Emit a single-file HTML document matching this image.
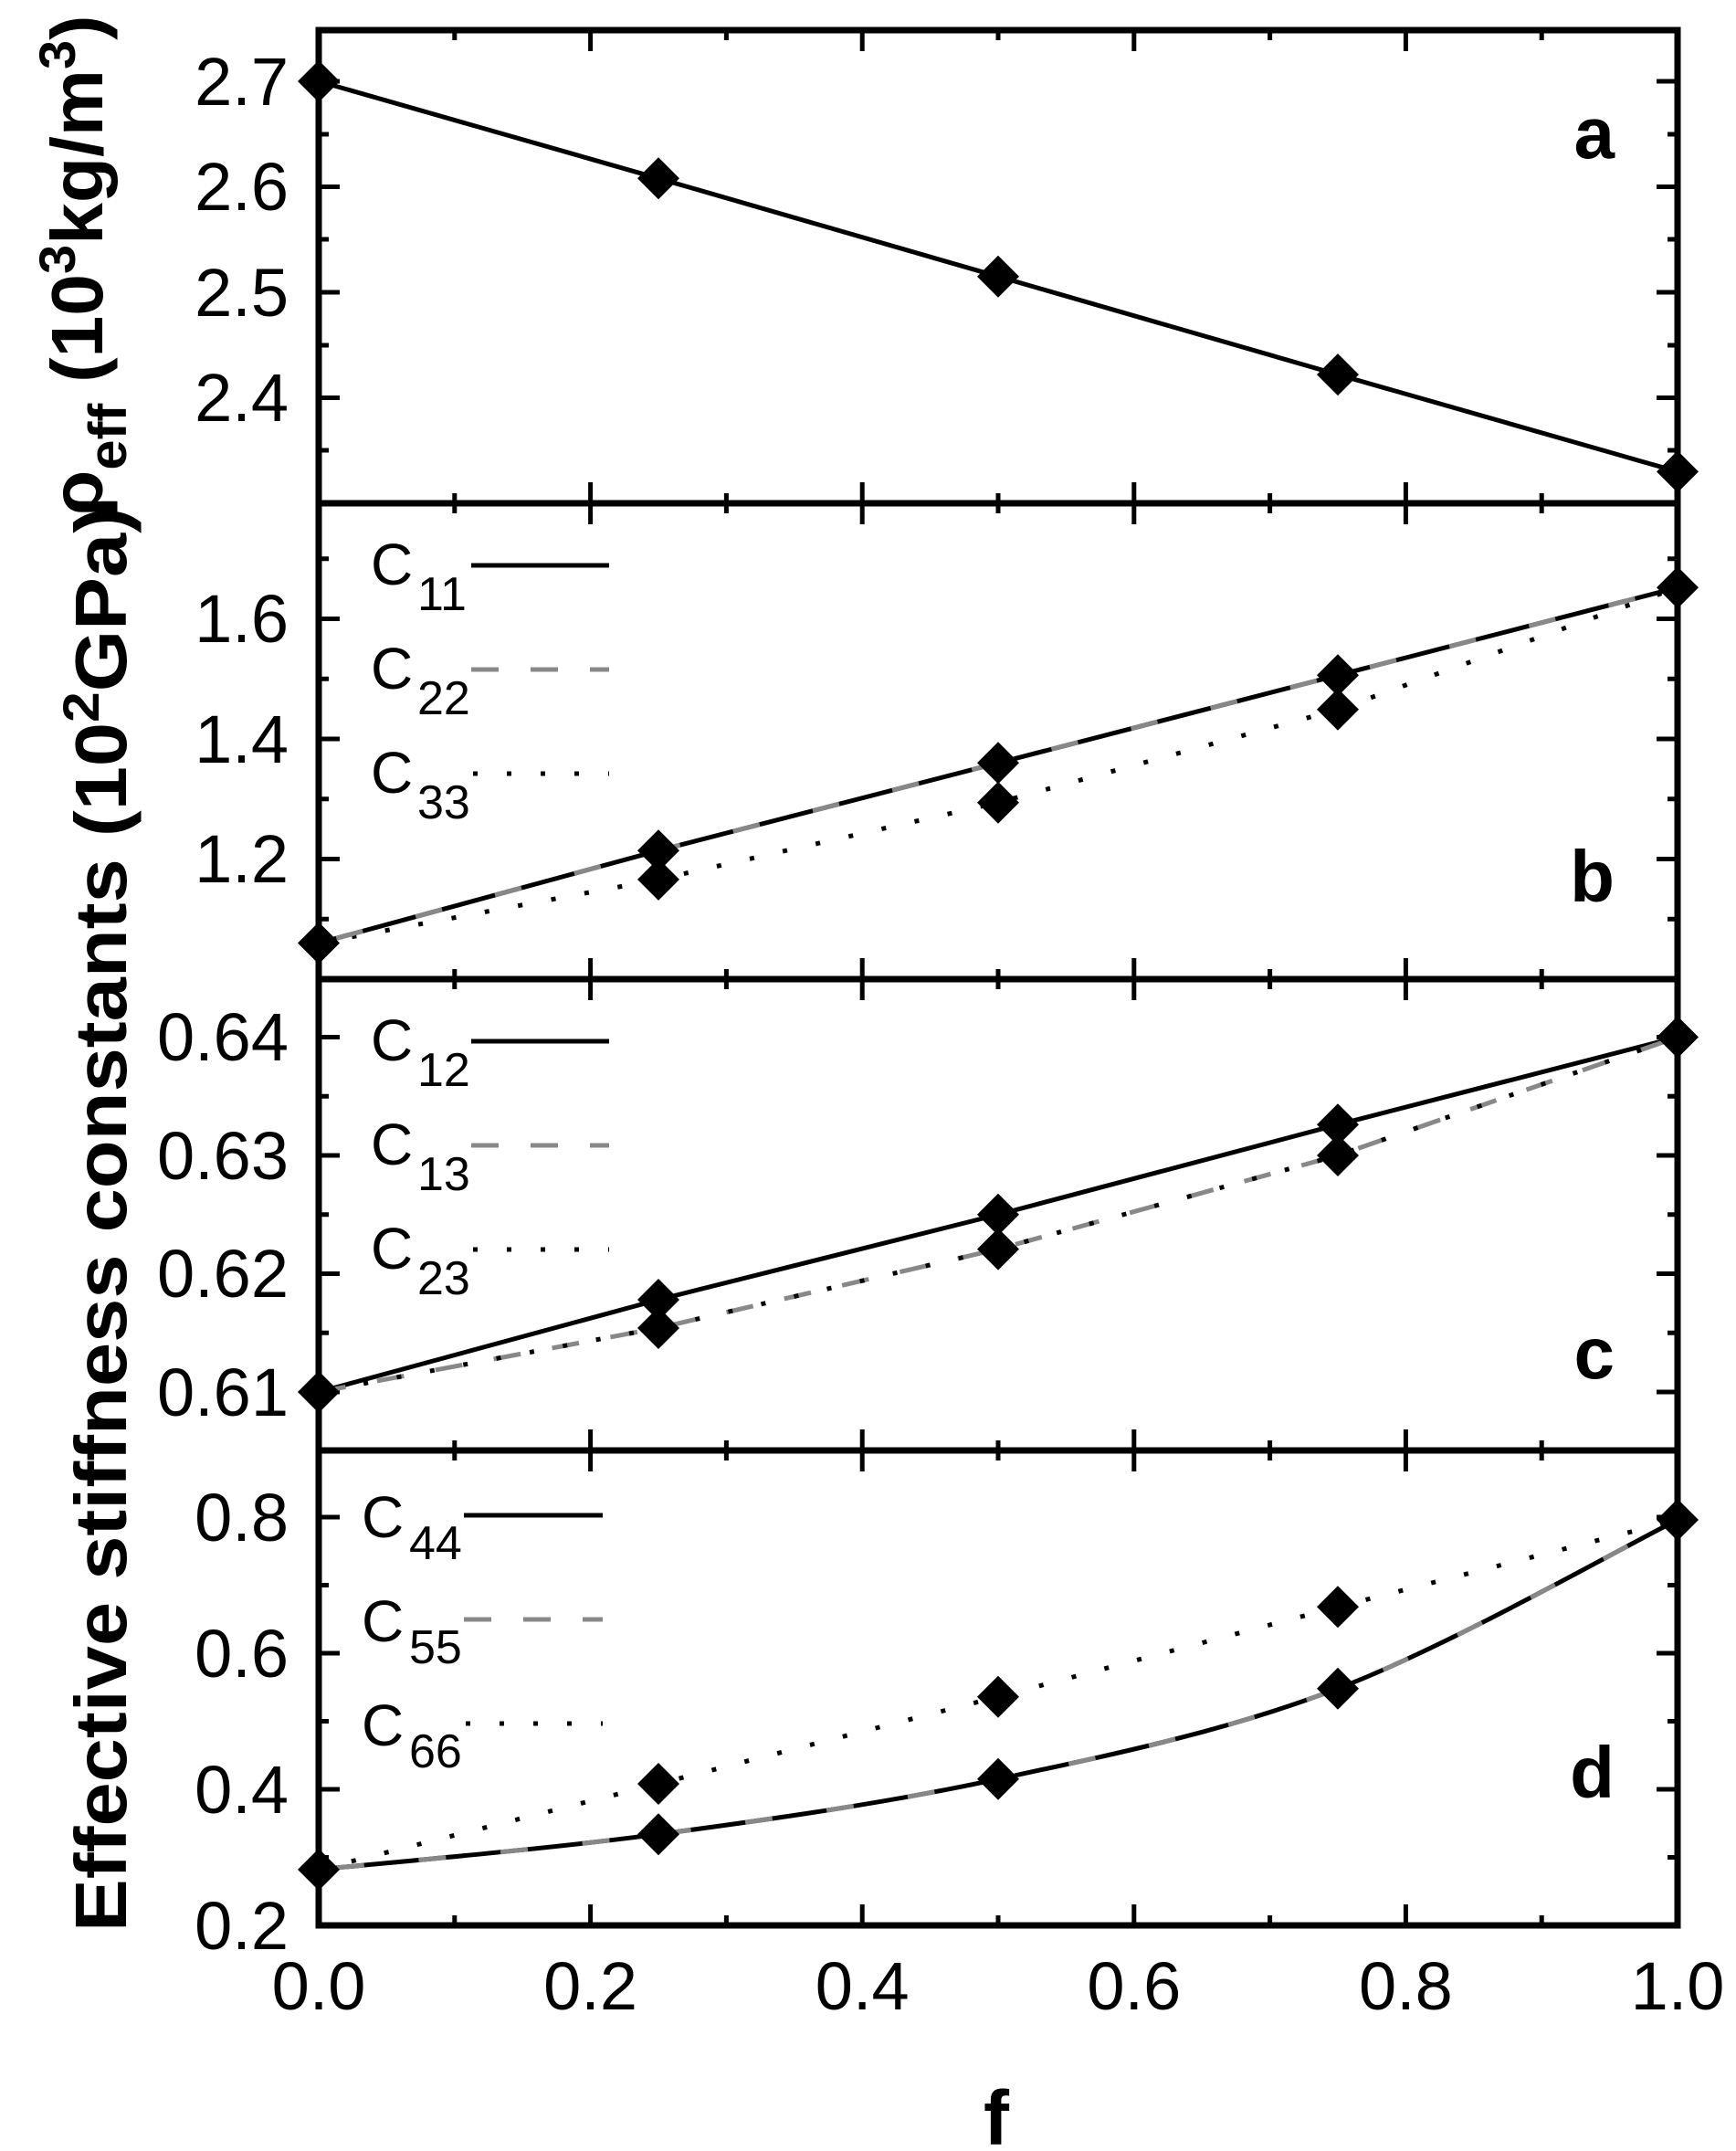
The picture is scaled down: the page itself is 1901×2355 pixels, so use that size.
<!DOCTYPE html>
<html><head><meta charset="utf-8"><style>html,body{margin:0;padding:0;background:#fff}svg{display:block}</style></head>
<body>
<svg width="1901" height="2355" viewBox="0 0 1901 2355" xmlns="http://www.w3.org/2000/svg" font-family="Liberation Sans, Arial, sans-serif">
<defs><path id="dm" d="M0,-23 L23,0 L0,23 L-23,0Z" fill="#000"/></defs>
<rect width="1901" height="2355" fill="#fff"/>
<g stroke="#000" fill="none" stroke-width="5">
<path d="M497.8,33v11M646.6,33v23M795.4,33v11M944.2,33v23M1093,33v11M1241.8,33v23M1390.6,33v11M1539.4,33v23M1688.2,33v11
M497.8,551v-11M646.6,551v-23M795.4,551v-11M944.2,551v-23M1093,551v-11M1241.8,551v-23M1390.6,551v-11M1539.4,551v-23M1688.2,551v-11
M497.8,551v11M646.6,551v23M795.4,551v11M944.2,551v23M1093,551v11M1241.8,551v23M1390.6,551v11M1539.4,551v23M1688.2,551v11
M497.8,1072v-11M646.6,1072v-23M795.4,1072v-11M944.2,1072v-23M1093,1072v-11M1241.8,1072v-23M1390.6,1072v-11M1539.4,1072v-23M1688.2,1072v-11
M497.8,1072v11M646.6,1072v23M795.4,1072v11M944.2,1072v23M1093,1072v11M1241.8,1072v23M1390.6,1072v11M1539.4,1072v23M1688.2,1072v11
M497.8,1588v-11M646.6,1588v-23M795.4,1588v-11M944.2,1588v-23M1093,1588v-11M1241.8,1588v-23M1390.6,1588v-11M1539.4,1588v-23M1688.2,1588v-11
M497.8,1588v11M646.6,1588v23M795.4,1588v11M944.2,1588v23M1093,1588v11M1241.8,1588v23M1390.6,1588v11M1539.4,1588v23M1688.2,1588v11
M497.8,2108v-11M646.6,2108v-23M795.4,2108v-11M944.2,2108v-23M1093,2108v-11M1241.8,2108v-23M1390.6,2108v-11M1539.4,2108v-23M1688.2,2108v-11"/>
<path d="M349,89h23M349,147h11M349,204.5h23M349,262h11M349,320h23M349,378h11M349,435.5h23M349,493h11
M349,611.75h11M349,677.5h23M349,743.25h11M349,809h23M349,874.75h11M349,940.5h23M349,1006.25h11
M349,1135.5h23M349,1200.25h11M349,1265h23M349,1329.75h11M349,1394.5h23M349,1459.25h11M349,1524h23
M349,1661h23M349,1735.5h11M349,1810h23M349,1884.5h11M349,1959h23M349,2033.5h11"/>
<path d="M1837,89h-23M1837,147h-11M1837,204.5h-23M1837,262h-11M1837,320h-23M1837,378h-11M1837,435.5h-23M1837,493h-11
M1837,611.75h-11M1837,677.5h-23M1837,743.25h-11M1837,809h-23M1837,874.75h-11M1837,940.5h-23M1837,1006.25h-11
M1837,1135.5h-23M1837,1200.25h-11M1837,1265h-23M1837,1329.75h-11M1837,1394.5h-23M1837,1459.25h-11M1837,1524h-23
M1837,1661h-23M1837,1735.5h-11M1837,1810h-23M1837,1884.5h-11M1837,1959h-23M1837,2033.5h-11"/>
</g>
<g stroke="#000" fill="none" stroke-width="7">
<rect x="349" y="33" width="1488" height="2075"/>
<path d="M349,551H1837M349,1072H1837M349,1588H1837"/>
</g>
<g fill="none" stroke-width="5">
<polyline stroke="#000" points="349,89 721,195.3 1093,302.7 1465,410.1 1837,516.4"/>
<polyline stroke="#000" stroke-dasharray="5 32" points="349,1032.5 721,962.9 1093,878.7 1465,776.8 1837,643.3"/>
<polyline stroke="#000" points="349,1032.5 721,931.3 1093,835.3 1465,739.3 1837,643.3"/>
<polyline stroke="#888" stroke-dasharray="30 60" stroke-dashoffset="-20" points="349,1032.5 721,931.3 1093,835.3 1465,739.3 1837,643.3"/>
<polyline stroke="#000" points="349,1524 721,1423 1093,1329.75 1465,1231.3 1837,1135.5"/>
<polyline stroke="#888" stroke-dasharray="30 35" points="349,1524 721,1454 1093,1367.6 1465,1265 1837,1135.5"/>
<polyline stroke="#000" stroke-dasharray="5 32" stroke-dashoffset="-50" points="349,1524 721,1454 1093,1367.6 1465,1265 1837,1135.5"/>
<polyline stroke="#000" stroke-dasharray="5 32" points="349,2046.9 721,1953 1093,1857.7 1465,1759.3 1837,1664"/>
<path stroke="#000" d="M349,2046.9 C411,2040.45 597,2024.7 721,2008.2 C845,1991.7 969,1974.4 1093,1947.8 C1217,1921.2 1341,1896 1465,1848.7 C1589,1801.4 1775,1694.8 1837,1664"/>
<path stroke="#888" stroke-dasharray="30 60" stroke-dashoffset="-20" d="M349,2046.9 C411,2040.45 597,2024.7 721,2008.2 C845,1991.7 969,1974.4 1093,1947.8 C1217,1921.2 1341,1896 1465,1848.7 C1589,1801.4 1775,1694.8 1837,1664"/>
<path stroke="#000" d="M516,619H667M516,1140H667M508,1659H660"/>
<path stroke="#888" stroke-dasharray="30 35" d="M516,733H667M516,1254H667M508,1773H660"/>
<path stroke="#000" stroke-dasharray="5 32" d="M518,847H667M518,1368H667M510,1887H660"/>
</g>
<g>
<use href="#dm" x="349" y="89"/><use href="#dm" x="721" y="195.3"/><use href="#dm" x="1093" y="302.7"/><use href="#dm" x="1465" y="410.1"/><use href="#dm" x="1837" y="516.4"/>
<use href="#dm" x="349" y="1032.5"/><use href="#dm" x="721" y="931.3"/><use href="#dm" x="1093" y="835.3"/><use href="#dm" x="1465" y="739.3"/><use href="#dm" x="1837" y="643.3"/>
<use href="#dm" x="721" y="962.9"/><use href="#dm" x="1093" y="878.7"/><use href="#dm" x="1465" y="776.8"/>
<use href="#dm" x="349" y="1524"/><use href="#dm" x="721" y="1423"/><use href="#dm" x="1093" y="1329.75"/><use href="#dm" x="1465" y="1231.3"/><use href="#dm" x="1837" y="1135.5"/>
<use href="#dm" x="721" y="1454"/><use href="#dm" x="1093" y="1367.6"/><use href="#dm" x="1465" y="1265"/>
<use href="#dm" x="349" y="2046.9"/><use href="#dm" x="721" y="2008.2"/><use href="#dm" x="1093" y="1947.8"/><use href="#dm" x="1465" y="1848.7"/><use href="#dm" x="1837" y="1664"/>
<use href="#dm" x="721" y="1953"/><use href="#dm" x="1093" y="1857.7"/><use href="#dm" x="1465" y="1759.3"/>
</g>
<g font-size="74" text-anchor="end" fill="#000">
<text x="316" y="115">2.7</text><text x="316" y="230">2.6</text><text x="316" y="346">2.5</text><text x="316" y="461">2.4</text>
<text x="316" y="703">1.6</text><text x="316" y="835">1.4</text><text x="316" y="966">1.2</text>
<text x="316" y="1161">0.64</text><text x="316" y="1291">0.63</text><text x="316" y="1420">0.62</text><text x="316" y="1550">0.61</text>
<text x="316" y="1687">0.8</text><text x="316" y="1836">0.6</text><text x="316" y="1985">0.4</text><text x="316" y="2134">0.2</text>
</g>
<g font-size="74" text-anchor="middle" fill="#000">
<text x="349" y="2200">0.0</text><text x="646.6" y="2200">0.2</text><text x="944.2" y="2200">0.4</text><text x="1241.8" y="2200">0.6</text><text x="1539.4" y="2200">0.8</text><text x="1837" y="2200">1.0</text>
</g>
<g fill="#000">
<text x="406" y="640" font-size="64">C</text><text x="457" y="668" font-size="52">11</text>
<text x="406" y="754" font-size="64">C</text><text x="457" y="782" font-size="52">22</text>
<text x="406" y="868" font-size="64">C</text><text x="457" y="896" font-size="52">33</text>
<text x="406" y="1161" font-size="64">C</text><text x="457" y="1189" font-size="52">12</text>
<text x="406" y="1275" font-size="64">C</text><text x="457" y="1303" font-size="52">13</text>
<text x="406" y="1389" font-size="64">C</text><text x="457" y="1417" font-size="52">23</text>
<text x="396" y="1683" font-size="64">C</text><text x="448" y="1707" font-size="52">44</text>
<text x="396" y="1797" font-size="64">C</text><text x="448" y="1821" font-size="52">55</text>
<text x="396" y="1911" font-size="64">C</text><text x="448" y="1935" font-size="52">66</text>
</g>
<g font-size="80" font-weight="bold" text-anchor="end" fill="#000">
<text x="1768" y="173">a</text><text x="1768" y="987">b</text><text x="1768" y="1509">c</text><text x="1768" y="1968">d</text>
</g>
<text x="1091" y="2348" font-size="84" font-weight="bold" text-anchor="middle">f</text>
<text transform="translate(138,1335) rotate(-90)" font-size="80" font-weight="bold" text-anchor="middle" textLength="1560" lengthAdjust="spacingAndGlyphs">Effective stiffness constants (10<tspan dy="-30" font-size="56">2</tspan><tspan dy="30">GPa)</tspan></text>
<text transform="translate(112,291) rotate(-90)" font-size="80" font-weight="bold" text-anchor="middle" textLength="549" lengthAdjust="spacingAndGlyphs">ρ<tspan dy="26" font-size="58">eff</tspan><tspan dy="-26"> (10</tspan><tspan dy="-30" font-size="56">3</tspan><tspan dy="30">kg/m</tspan><tspan dy="-30" font-size="56">3</tspan><tspan dy="30">)</tspan></text>
</svg>
</body></html>
